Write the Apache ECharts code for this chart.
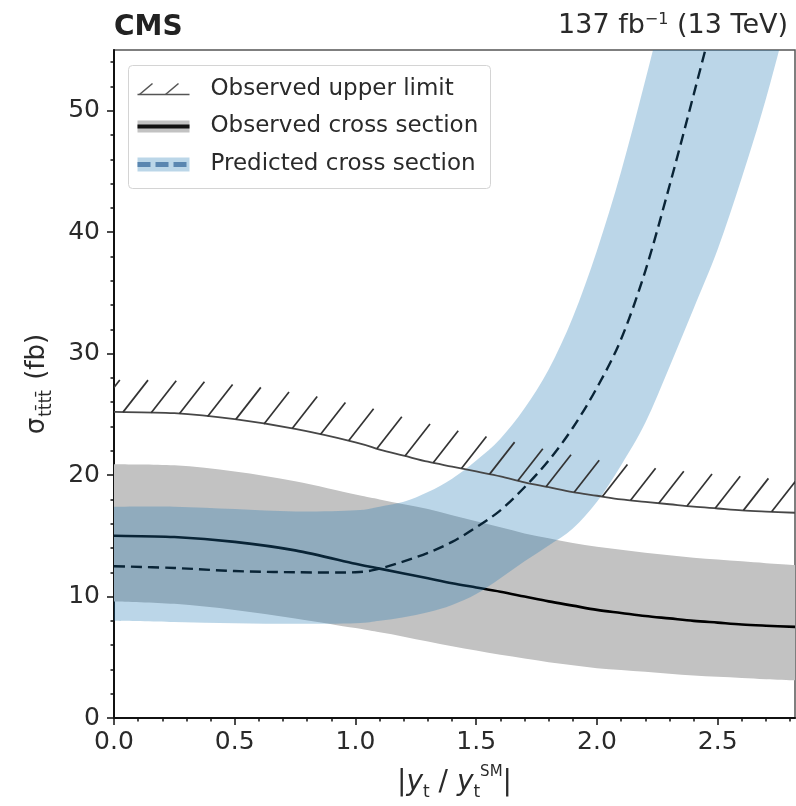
<!DOCTYPE html>
<html><head><meta charset="utf-8">
<script src="https://cdn.jsdelivr.net/npm/echarts@6/dist/echarts.min.js"></script>
<style>html,body{margin:0;padding:0;background:#fff}#c{width:796px;height:806px}</style>
</head><body><div id="c"></div>
<script>
// ---- data ----
const xs         = [0, 0.25, 0.5, 0.75, 1.0, 1.1, 1.2, 1.3, 1.4, 1.5, 1.6, 1.7, 1.8, 1.9, 2.0, 2.1, 2.2, 2.3, 2.4, 2.5, 2.6, 2.7, 2.82];
const obsLimit   = [25.2, 25.1, 24.6, 23.8, 22.7, 22.1, 21.6, 21.1, 20.7, 20.3, 19.9, 19.4, 19.0, 18.6, 18.3, 18.0, 17.8, 17.6, 17.4, 17.25, 17.1, 17.0, 16.9];
const obsXsec    = [15.0, 14.9, 14.5, 13.8, 12.7, 12.3, 11.9, 11.5, 11.1, 10.75, 10.4, 10.0, 9.6, 9.25, 8.9, 8.65, 8.4, 8.2, 8.0, 7.85, 7.7, 7.6, 7.5];
const obsHigh    = [20.9, 20.8, 20.3, 19.5, 18.4, 18.0, 17.6, 17.2, 16.7, 16.2, 15.7, 15.2, 14.8, 14.4, 14.1, 13.85, 13.6, 13.4, 13.2, 13.05, 12.9, 12.75, 12.6];
const obsLow     = [9.6, 9.4, 8.9, 8.2, 7.4, 7.05, 6.7, 6.3, 5.9, 5.55, 5.2, 4.9, 4.6, 4.35, 4.1, 3.95, 3.8, 3.65, 3.5, 3.4, 3.3, 3.2, 3.1];
const predXsec   = [12.5, 12.35, 12.1, 12.0, 12.0, 12.3, 12.9, 13.6, 14.5, 15.7, 17.1, 19.0, 21.2, 23.9, 27.2, 31.2, 36.8, 43.8, 51.3, 59, 67, 76, 87];
const predHigh   = [17.4, 17.4, 17.2, 17.0, 17.1, 17.4, 17.8, 18.6, 19.7, 21.2, 23.0, 25.5, 28.7, 33.0, 38.5, 45.0, 52.5, 60.5, 69, 78, 88, 99, 112];
const predLow    = [8.0, 7.9, 7.8, 7.75, 7.8, 8.0, 8.3, 8.7, 9.3, 10.2, 11.5, 12.9, 14.2, 15.6, 17.8, 20.8, 24.3, 28.9, 33.7, 38.6, 44.5, 51.0, 60];
const xTickValues = [0, 0.5, 1.0, 1.5, 2.0, 2.5];
const xTickLabels = ['0.0', '0.5', '1.0', '1.5', '2.0', '2.5'];
const yTickValues = [0, 10, 20, 30, 40, 50];
const yTickLabels = ['0', '10', '20', '30', '40', '50'];
const legendNames = ['Observed upper limit', 'Observed cross section', 'Predicted cross section'];

// ---- helpers ----
const FONT = 'DejaVu Sans';
const xMinor = []; for (let k = 1; k <= 28; k++) if (k % 5) xMinor.push(+(k / 10).toFixed(1));
const yMinor = []; for (let k = 2; k <= 54; k += 2) if (k % 10) yMinor.push(k);
const XMAX = 2.82, YMAX = 55;

// Catmull-Rom cubic segments through pixel points (rendering only)
function curveSegs(p) {
  let d = '';
  for (let i = 0; i < p.length - 1; i++) {
    const p0 = p[i - 1] || p[i], p1 = p[i], p2 = p[i + 1], p3 = p[i + 2] || p[i + 1];
    const c1x = p1[0] + (p2[0] - p0[0]) / 6, c1y = p1[1] + (p2[1] - p0[1]) / 6;
    const c2x = p2[0] - (p3[0] - p1[0]) / 6, c2y = p2[1] - (p3[1] - p1[1]) / 6;
    d += ' C' + c1x.toFixed(2) + ' ' + c1y.toFixed(2) + ' ' + c2x.toFixed(2) + ' ' + c2y.toFixed(2) + ' ' + p2[0].toFixed(2) + ' ' + p2[1].toFixed(2);
  }
  return d;
}
function bandSeries(name, hi, lo, fill, z) {
  return {type: 'custom', name: name, clip: true, silent: true, z: z, data: [[0, 0]],
    renderItem: function (params, api) {
      const up = xs.map((x, i) => api.coord([x, hi[i]]));
      const dn = xs.map((x, i) => api.coord([x, lo[i]])).reverse();
      const d = 'M' + up[0][0] + ' ' + up[0][1] + curveSegs(up) + ' L' + dn[0][0] + ' ' + dn[0][1] + curveSegs(dn) + ' Z';
      return {type: 'path', shape: {pathData: d}, style: {fill: fill, stroke: null}};
    }};
}
function curveSeries(name, ys, stroke, lw, dash, z) {
  return {type: 'custom', name: name, clip: true, silent: true, z: z, data: [[0, 0]],
    renderItem: function (params, api) {
      const p = xs.map((x, i) => api.coord([x, ys[i]]));
      const d = 'M' + p[0][0] + ' ' + p[0][1] + curveSegs(p);
      return {type: 'path', shape: {pathData: d}, style: {fill: null, stroke: stroke, lineWidth: lw, lineDash: dash || null}};
    }};
}

const chart = echarts.init(document.getElementById('c'), null, {renderer: 'canvas', width: 796, height: 806});

const commonX = {type: 'value', min: 0, max: XMAX, position: 'bottom', splitLine: {show: false}};
const commonY = {type: 'value', min: 0, max: YMAX, position: 'left', offset: 0, splitLine: {show: false}};

const option = {
  animation: false,
  backgroundColor: '#fff',
  grid: {left: 114, top: 50, right: 1, bottom: 88, show: true, borderColor: '#555', borderWidth: 1.5, backgroundColor: 'transparent', containLabel: false, outerBoundsMode: 'none'},
  xAxis: [
    Object.assign({}, commonX, {
      interval: 0.5,
      axisLine: {show: true, onZero: false, lineStyle: {color: '#111', width: 2}},
      axisTick: {show: true, length: 7, customValues: xTickValues, lineStyle: {color: '#111', width: 1.5}},
      axisLabel: {show: true, customValues: xTickValues, margin: 12, fontFamily: FONT, fontSize: 25, color: '#2a2a2a',
        formatter: v => xTickLabels[xTickValues.findIndex(t => Math.abs(t - v) < 1e-6)] || ''},
      name: '{b||}{i|y}{s|t}{b| / }{i|y}{s|t}{p|SM}{b||}',
      nameLocation: 'middle', nameGap: 51, nameMoveOverlap: false,
      nameTextStyle: {fontFamily: FONT, color: '#2a2a2a', rich: {
        b: {fontFamily: FONT, fontSize: 28, color: '#2a2a2a'},
        i: {fontFamily: FONT, fontSize: 28, fontStyle: 'italic', color: '#2a2a2a'},
        s: {fontFamily: FONT, fontSize: 17, color: '#2a2a2a', verticalAlign: 'bottom', padding: [0, 0, -4, 0]},
        p: {fontFamily: FONT, fontSize: 15, color: '#2a2a2a', verticalAlign: 'top', padding: [-4, 0, 0, 0]}
      }}
    }),
    Object.assign({}, commonX, {
      interval: 0.5,
      axisLine: {show: false},
      axisTick: {show: true, length: 3.5, customValues: xMinor, lineStyle: {color: '#111', width: 1.5}},
      axisLabel: {show: false}
    })
  ],
  yAxis: [
    Object.assign({}, commonY, {
      interval: 10,
      axisLine: {show: true, onZero: false, lineStyle: {color: '#111', width: 2}},
      axisTick: {show: true, length: 7, customValues: yTickValues, lineStyle: {color: '#111', width: 1.5}},
      axisLabel: {show: true, customValues: yTickValues, margin: 14, fontFamily: FONT, fontSize: 25, color: '#2a2a2a',
        formatter: v => yTickLabels[yTickValues.findIndex(t => Math.abs(t - v) < 1e-6)] || ''},
      name: '{a|σ}{s|tt̄tt̄}{a| (fb)}',
      nameLocation: 'middle', nameRotate: 90, nameGap: 64, nameMoveOverlap: false,
      nameTextStyle: {fontFamily: FONT, color: '#2a2a2a', rich: {
        a: {fontFamily: FONT, fontSize: 26, color: '#2a2a2a'},
        s: {fontFamily: FONT, fontSize: 17, color: '#2a2a2a', verticalAlign: 'bottom', padding: [0, 2, -5, 1]}
      }}
    }),
    Object.assign({}, commonY, {
      interval: 10,
      axisLine: {show: false},
      axisTick: {show: true, length: 3.5, customValues: yMinor, lineStyle: {color: '#111', width: 1.5}},
      axisLabel: {show: false}
    })
  ],
  series: [
    bandSeries('obsBand', obsHigh, obsLow, '#c2c2c2', 1),
    curveSeries(legendNames[1], obsXsec, '#000', 2.6, null, 2),
    curveSeries(legendNames[2], predXsec, '#000', 2.4, [11, 6], 2),
    bandSeries('predBand', predHigh, predLow, 'rgba(31,119,180,0.3)', 3),
    curveSeries(legendNames[0], obsLimit, '#474747', 1.8, null, 4),
    // hatching above the limit
    {type: 'custom', name: 'hatch', clip: true, silent: true, z: 4, data: [[0, 0]],
      renderItem: function (params, api) {
        const pts = xs.map((x, i) => api.coord([x, obsLimit[i]]));
        const step = 28.2, dx = 25, dy = 32;
        const children = [];
        for (let px = pts[0][0] + 9 - step; px <= pts[pts.length - 1][0] + 1; px += step) {
          let py = pts[0][1];
          for (let j = 1; j < pts.length; j++) {
            if (px <= pts[j][0]) {
              const t = Math.max(0, (px - pts[j - 1][0]) / (pts[j][0] - pts[j - 1][0]));
              py = pts[j - 1][1] + t * (pts[j][1] - pts[j - 1][1]);
              break;
            }
          }
          children.push({type: 'line', shape: {x1: px, y1: py, x2: px + dx, y2: py - dy},
            style: {stroke: '#333', lineWidth: 1.7}});
        }
        return {type: 'group', children: children};
      }}
  ],
  graphic: [
    {type: 'text', left: 114, top: 14, style: {text: 'CMS', font: 'bold 28px "DejaVu Sans"', fill: '#222'}},
    {type: 'text', right: 8, top: 12, style: {text: '137 fb{sup|−1} (13 TeV)', font: '27px "DejaVu Sans"', fill: '#2a2a2a',
      rich: {sup: {fontSize: 16, fontFamily: FONT, verticalAlign: 'top', fill: '#2a2a2a', padding: [0, 0, 10, 0]}}}},
    {type: 'group', left: 128, top: 65, children: [
      {type: 'rect', shape: {x: 0, y: 0, width: 362, height: 123, r: 4}, style: {fill: '#fff', stroke: '#d4d4d4', lineWidth: 1}},
      // row 1: hatch icon
      {type: 'line', shape: {x1: 9, y1: 29, x2: 61, y2: 29}, style: {stroke: '#555', lineWidth: 1.6}},
      {type: 'line', shape: {x1: 11, y1: 29, x2: 24, y2: 18}, style: {stroke: '#555', lineWidth: 1.6}},
      {type: 'line', shape: {x1: 37, y1: 29, x2: 50, y2: 18}, style: {stroke: '#555', lineWidth: 1.6}},
      {type: 'text', x: 82, y: 24, style: {text: legendNames[0], font: '23px "DejaVu Sans"', fill: '#2a2a2a', verticalAlign: 'middle'}},
      // row 2
      {type: 'rect', shape: {x: 9, y: 55, width: 52, height: 12}, style: {fill: '#c2c2c2'}},
      {type: 'line', shape: {x1: 9, y1: 61, x2: 61, y2: 61}, style: {stroke: '#111', lineWidth: 4}},
      {type: 'text', x: 82, y: 61, style: {text: legendNames[1], font: '23px "DejaVu Sans"', fill: '#2a2a2a', verticalAlign: 'middle'}},
      // row 3
      {type: 'rect', shape: {x: 9, y: 92, width: 52, height: 14}, style: {fill: 'rgba(31,119,180,0.3)'}},
      {type: 'line', shape: {x1: 9, y1: 99, x2: 61, y2: 99}, style: {stroke: '#5a86b0', lineWidth: 5, lineDash: [13, 5]}},
      {type: 'text', x: 82, y: 99, style: {text: legendNames[2], font: '23px "DejaVu Sans"', fill: '#2a2a2a', verticalAlign: 'middle'}}
    ]}
  ]
};
chart.setOption(option);
</script>
</body></html>
